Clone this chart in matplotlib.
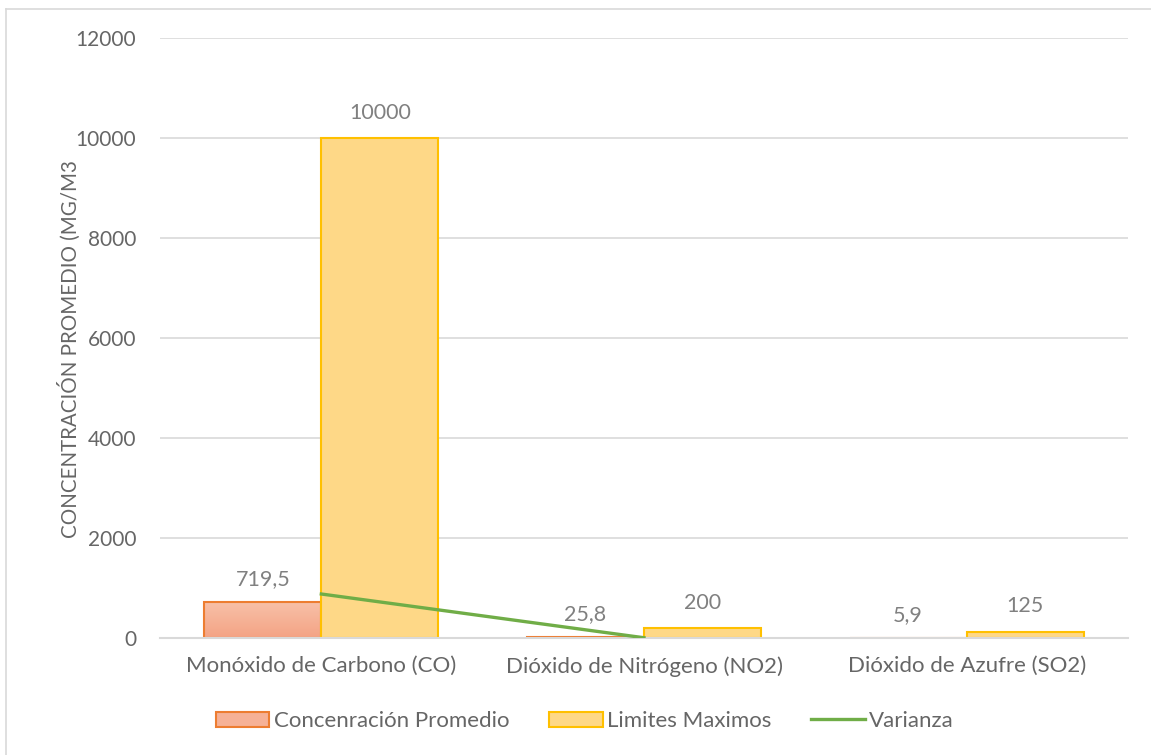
import numpy as np
import matplotlib.pyplot as plt
from matplotlib.patches import Patch
from matplotlib.lines import Line2D
from matplotlib.colors import LinearSegmentedColormap

categories = ["Monóxido de Carbono (CO)", "Dióxido de Nitrógeno (NO2)", "Dióxido de Azufre (SO2)"]
concentracion = [719.5, 25.8, 5.9]
limites = [10000, 200, 125]
varianza = [880, 5, np.nan]
conc_labels = ["719,5", "25,8", "5,9"]
lim_labels = ["10000", "200", "125"]
yticks = [0, 2000, 4000, 6000, 8000, 10000, 12000]

plt.rcParams['font.family'] = ['Lato', 'DejaVu Sans']
text_color = "#666666"
label_color = "#808080"

fig = plt.figure(figsize=(11.51, 7.55), dpi=100)
ax = fig.add_axes([160 / 1151, 1 - 638 / 755, (1128 - 160) / 1151, (638 - 38) / 755])

x = np.arange(len(categories))
w = 0.363

orange_cmap = LinearSegmentedColormap.from_list("og", ["#F4A384", "#F8C0A8"])
bars_c = ax.bar(x - w / 2, concentracion, w, color="none", edgecolor="#ED7D31", linewidth=1.5, zorder=3)
for b in bars_c:
    x0, y0 = b.get_x(), b.get_y()
    grad = np.linspace(0, 1, 100).reshape(-1, 1)
    im = ax.imshow(grad, cmap=orange_cmap, origin="lower", aspect="auto",
                   extent=[x0, x0 + b.get_width(), y0, y0 + b.get_height()], zorder=2.5)
    im.set_clip_path(b)
bars_l = ax.bar(x + w / 2, limites, w, color="#FED887", edgecolor="#FFC000", linewidth=1.5, zorder=3)

ax.plot(x, varianza, color="#70AD47", linewidth=2.4, zorder=4)

for b, t in zip(bars_c, conc_labels):
    ax.annotate(t, (b.get_x() + b.get_width() / 2, b.get_height()), xytext=(0, 9),
                textcoords="offset points", ha="center", va="bottom", color=label_color, fontsize=15.5)
for b, t in zip(bars_l, lim_labels):
    ax.annotate(t, (b.get_x() + b.get_width() / 2, b.get_height()), xytext=(0, 11),
                textcoords="offset points", ha="center", va="bottom", color=label_color, fontsize=15.5)

ax.set_xlim(-0.5, 2.5)
ax.set_ylim(0, 12000)
ax.set_yticks(yticks)
ax.set_yticklabels([str(v) for v in yticks])
ax.set_xticks(x)
ax.set_xticklabels(categories)
ax.tick_params(axis="y", length=0, labelsize=15, colors=text_color, pad=17)
ax.tick_params(axis="x", length=0, labelsize=16, colors=text_color, pad=13)
ax.yaxis.grid(True, color="#D9D9D9", linewidth=1.2, zorder=0)
ax.set_axisbelow(True)
for s in ["top", "right", "left"]:
    ax.spines[s].set_visible(False)
ax.spines["bottom"].set_color("#D9D9D9")
ax.spines["bottom"].set_linewidth(1.5)
ax.spines["bottom"].set_zorder(3.5)

ax.set_ylabel("CONCENTRACIÓN PROMEDIO (MG/M3", color=text_color, fontsize=14.8)
ax.yaxis.set_label_coords(-0.082, 0.482)

handles = [
    Patch(facecolor="#F6B196", edgecolor="#ED7D31", linewidth=1.5),
    Patch(facecolor="#FED887", edgecolor="#FFC000", linewidth=1.5),
    Line2D([0], [0], color="#70AD47", linewidth=2.4),
]
fig.legend(handles, ["Concenración Promedio", "Limites Maximos", "Varianza"],
           loc="center", bbox_to_anchor=(585 / 1151, 1 - 721 / 755), ncol=3, frameon=False,
           fontsize=16, labelcolor=text_color, handlelength=2.4, handleheight=0.65,
           handletextpad=0.2, columnspacing=1.8)

# outer frame: top and left edges
fig.add_artist(Line2D([6 / 1151, 1], [1 - 9 / 755, 1 - 9 / 755], color="#D9D9D9", linewidth=1.2,
                      transform=fig.transFigure))
fig.add_artist(Line2D([6 / 1151, 6 / 1151], [0, 1 - 9 / 755], color="#D9D9D9", linewidth=1.2,
                      transform=fig.transFigure))

fig.savefig("out.png", dpi=100)
